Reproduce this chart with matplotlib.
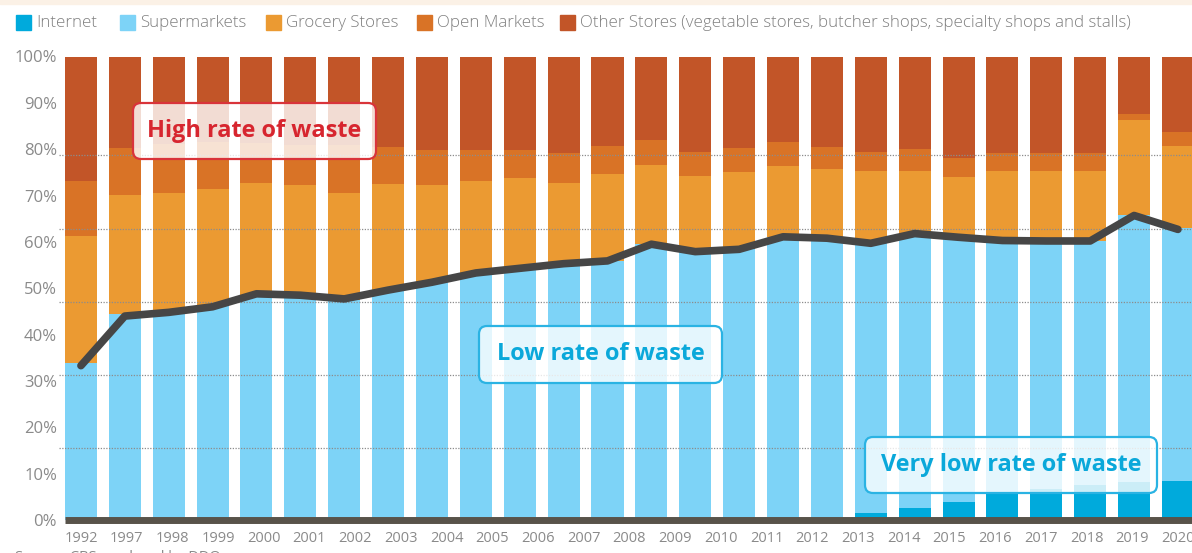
import numpy as np
import matplotlib
matplotlib.use("Agg")
import matplotlib.pyplot as plt
from matplotlib.patches import Rectangle, FancyBboxPatch
from matplotlib.transforms import IdentityTransform

plt.rcParams['font.family'] = ['Open Sans', 'DejaVu Sans']

# share of food purchases by channel (%), one bar per survey
years = ['1992', '1997', '1998', '1999', '2000', '2001', '2002', '2003', '2004',
         '2005', '2006', '2007', '2008', '2009', '2010', '2011', '2012', '2013',
         '2014', '2015', '2016', '2017', '2018', '2019', '2020']
internet = [0, 0, 0, 0, 0, 0, 0, 0, 0, 0, 0, 0, 0, 0, 0, 0, 0, 0,
            1.5, 2.6, 3.9, 5.8, 6.7, 7.5, 8.2, 8.5]
supermarkets = [33.9, 44.4, 44.9, 46.1, 48.5, 48.5, 47.5, 49.6, 51.3, 53.2, 54.3,
                55.2, 55.9, 59.5, 57.9, 58.4, 61.1, 60.8, 58.2, 59.2, 57.1, 54.5,
                53.5, 52.7, 57.5, 54.4]
grocery = [27.4, 25.7, 25.7, 25.3, 24.2, 23.7, 23.0, 22.9, 20.9, 19.9, 19.5, 17.5,
           18.8, 17.0, 16.4, 16.6, 15.2, 15.0, 15.7, 13.4, 12.9, 15.1, 15.2, 15.2,
           20.6, 17.7]
open_markets = [11.9, 10.2, 10.5, 10.1, 8.7, 8.6, 10.5, 8.0, 7.6, 6.7, 6.0, 6.4,
                5.9, 5.4, 5.0, 5.2, 5.2, 4.6, 4.1, 4.8, 4.3, 3.7, 3.7, 3.7, 1.3, 3.1]
other = [26.8, 19.7, 18.9, 18.5, 18.6, 19.2, 19.0, 19.5, 20.2, 20.2, 20.2, 20.9,
         19.4, 18.1, 20.7, 19.8, 18.5, 19.6, 20.5, 20.0, 21.8, 20.9, 20.9, 20.9,
         12.4, 16.3]
# supermarkets + internet trend line
trend = [33.3, 44.0, 44.8, 46.0, 48.8, 48.5, 47.7, 49.6, 51.3, 53.3, 54.3, 55.3,
         55.9, 59.5, 57.9, 58.4, 61.1, 60.8, 59.7, 61.8, 61.0, 60.3, 60.2, 60.2,
         65.7, 62.7]

series = [('Internet', internet, '#00aadc'),
          ('Supermarkets', supermarkets, '#7dd3f7'),
          ('Grocery Stores', grocery, '#eb9a32'),
          ('Open Markets', open_markets, '#d97326'),
          ('Other Stores (vegetable stores, butcher shops, specialty shops and stalls)',
           other, '#c25528')]

W, H = 1192, 553
fig = plt.figure(figsize=(W / 100, H / 100), dpi=100)
ax = fig.add_axes([59 / W, 33 / H, (W - 59) / W, 463.5 / H])

x = np.arange(len(supermarkets))
bottom = np.zeros(len(x))
for name, vals, col in series:
    ax.bar(x, vals, width=0.73, bottom=bottom, color=col, zorder=1, linewidth=0)
    bottom += np.array(vals)

# dotted guide lines
for lvl in [15.5, 31.3, 47.1, 62.8, 78.7]:
    ax.axhline(lvl, color='#8c8c8c', lw=0.9, ls=(0, (1, 1.2)), zorder=2)

ax.plot(x, trend, color='#464646', lw=5.5, solid_capstyle='round',
        solid_joinstyle='round', zorder=3)
ax.plot([-0.365, 25.4], [0, 0], color='#58534a', lw=5, solid_capstyle='butt',
        zorder=3, clip_on=False)

ax.set_xlim(-0.5, 25.32)
ax.set_ylim(0, 100)
for s in ax.spines.values():
    s.set_visible(False)
ax.set_yticks(np.arange(0, 101, 10))
ax.set_yticklabels([f'{v}%' for v in range(0, 101, 10)])
ax.set_xticks(np.linspace(0, 25, len(years)))
ax.set_xticklabels(years)
ax.tick_params(axis='y', length=0, pad=1.5, labelsize=12, labelcolor='#8a8a8a')
ax.tick_params(axis='x', length=0, pad=8, labelsize=10.5, labelcolor='#8a8a8a')

# thin band at the top
fig.patches.append(Rectangle((0, 1 - 4 / H), 1, 4 / H, transform=fig.transFigure,
                             color='#fbf1e6', zorder=0))

# legend drawn by hand
leg_sq = [16, 120, 266, 417, 560]
for (name, vals, col), sx in zip(series, leg_sq):
    fig.patches.append(Rectangle((sx / W, 1 - 30 / H), 15 / W, 15 / H,
                                 transform=fig.transFigure, color=col))
    fig.text((sx + 20) / W, 1 - 23 / H, name, fontsize=12.2, color='#808080',
             va='center', ha='left', fontweight='light')


def note(x0, y0, x1, y1, text, col, edge):
    box = FancyBboxPatch((x0, H - y1), x1 - x0, y1 - y0,
                         boxstyle='round,pad=0,rounding_size=8',
                         transform=IdentityTransform(), facecolor='white',
                         alpha=0.8, edgecolor='none', zorder=5)
    fig.patches.append(box)
    rim = FancyBboxPatch((x0, H - y1), x1 - x0, y1 - y0,
                         boxstyle='round,pad=0,rounding_size=8',
                         transform=IdentityTransform(), facecolor='none',
                         edgecolor=edge, lw=1.6, zorder=6)
    fig.patches.append(rim)
    fig.text((x0 + x1) / 2 / W, 1 - (y0 + y1) / 2 / H, text, color=col,
             fontsize=16.9, fontweight='bold', ha='center', va='center', zorder=7)


note(133, 103, 376, 159, 'High rate of waste', '#d7262f', '#d9343a')
note(479, 326, 722, 383, 'Low rate of waste', '#0aa8da', '#2ab3e3')
note(865, 437, 1157, 493, 'Very low rate of waste', '#0aa8da', '#2ab3e3')

fig.text(15 / W, 1 - 550 / H, 'Source: CBS, analyzed by DDO', fontsize=10.5,
         color='#8a8a8a', va='top', ha='left')

fig.savefig('out.png', dpi=100)
